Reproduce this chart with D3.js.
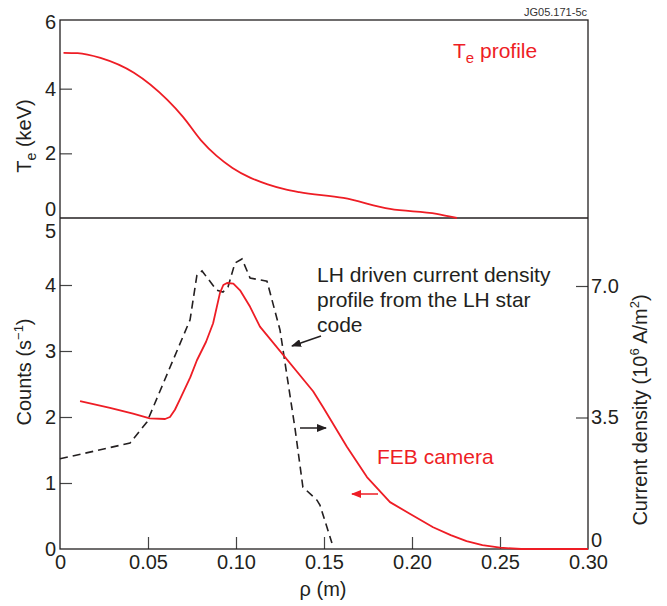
<!DOCTYPE html>
<html>
<head>
<meta charset="utf-8">
<script src="https://cdn.jsdelivr.net/npm/d3@7"></script>
<style>
    body { margin: 0; background: #fff; }
    svg { display: block; }
</style>
</head>
<body>
<svg id="chart"></svg>
<script>
// Te profile (top panel)
const teRho = [0.002, 0.010, 0.023, 0.042, 0.061, 0.070, 0.080, 0.089, 0.098, 0.108, 0.118, 0.127, 0.136, 0.161, 0.1875, 0.214, 0.2255];
const teKeV = [5.11, 5.10, 4.95, 4.49, 3.65, 3.12, 2.41, 1.92, 1.55, 1.25, 1.04, 0.90, 0.80, 0.62, 0.28, 0.13, 0];

// FEB camera counts (left axis, lower panel)
const febRho = [0.0114, 0.0284, 0.0415, 0.051, 0.0597, 0.0625, 0.0653, 0.068, 0.074, 0.0778, 0.083, 0.087, 0.0909, 0.0928, 0.0949, 0.0985, 0.1023, 0.108, 0.1136, 0.1438, 0.1494, 0.163, 0.1744, 0.1875, 0.199, 0.212, 0.222, 0.231, 0.240, 0.250, 0.262, 0.30];
const febCounts = [2.24, 2.14, 2.05, 1.98, 1.97, 2.00, 2.11, 2.26, 2.60, 2.86, 3.14, 3.42, 3.88, 4.00, 4.03, 4.02, 3.92, 3.67, 3.37, 2.39, 2.15, 1.55, 1.09, 0.71, 0.53, 0.33, 0.21, 0.12, 0.06, 0.02, 0, 0];

// LH star current density (right axis, lower panel)
const lhRho = [0, 0.0398, 0.0494, 0.0739, 0.0778, 0.0807, 0.089, 0.0926, 0.0955, 0.0994, 0.1034, 0.108, 0.1176, 0.125, 0.1335, 0.138, 0.146, 0.1477, 0.1545];
const lhJ = [2.40, 2.82, 3.38, 6.10, 7.29, 7.40, 6.89, 6.84, 6.98, 7.61, 7.72, 7.21, 7.13, 5.83, 3.22, 1.65, 1.30, 1.17, 0.16];

const rhoTicks = [0, 0.05, 0.10, 0.15, 0.20, 0.25, 0.30];
const teTicks = [0, 2, 4, 6];
const countTicks = [0, 1, 2, 3, 4, 5];
const jTicks = [0, 3.5, 7.0];

const width = 667,
    height = 606,
    plotLeft = 60,
    plotRight = 588,
    plotTop = 20,
    plotMid = 218,
    plotBottom = 549;

const font = "'Liberation Sans', Arial, Helvetica, sans-serif";
const red = "#ee1d25";
const ink = "#231f20";

const svg = d3.select("#chart")
    .attr("width", width)
    .attr("height", height)
    .attr("font-family", font);

const x = d3.scaleLinear().domain([0, 0.30]).range([plotLeft, plotRight]);
const yTe = d3.scaleLinear().domain([0, 6]).range([plotMid, 24]);
const yCounts = d3.scaleLinear().domain([0, 4]).range([plotBottom, 285]);
const yJ = d3.scaleLinear().domain([0, 7]).range([plotBottom, 286]);

// ticks that fall on the frame are hidden, the frame draws them
function styleAxis(g, edges) {
    g.attr("font-family", font).attr("font-size", 20);
    g.select(".domain").remove();
    g.selectAll(".tick line")
        .attr("stroke", "#444")
        .attr("stroke-width", 1.2)
        .attr("opacity", d => edges.includes(d) ? 0 : 1);
    g.selectAll(".tick text").attr("fill", ink);
}

//axes
svg.append("g")
    .attr("transform", `translate(${plotLeft},0)`)
    .call(d3.axisLeft(yTe).tickValues(teTicks).tickSize(-12).tickPadding(4).tickFormat(d3.format("d")))
    .call(styleAxis, [0, 6])
    .selectAll(".tick text")
    .attr("dy", d => d === 0 ? "-0.12em" : d === 6 ? "0.24em" : "0.32em");

svg.append("g")
    .attr("transform", `translate(${plotLeft},0)`)
    .call(d3.axisLeft(yCounts).tickValues(countTicks).tickSize(-12).tickPadding(4).tickFormat(d3.format("d")))
    .call(styleAxis, [0, 5])
    .selectAll(".tick text")
    .attr("dy", d => d === 5 ? "0.9em" : "0.32em");

svg.append("g")
    .attr("transform", `translate(${plotRight},0)`)
    .call(d3.axisRight(yJ).tickValues(jTicks).tickSize(-12).tickPadding(3)
        .tickFormat(d => d === 0 ? "0" : d.toFixed(1)))
    .call(styleAxis, [0])
    .selectAll(".tick text")
    .attr("dy", d => d === 0 ? "-0.15em" : "0.32em");

svg.append("g")
    .attr("transform", `translate(0,${plotBottom})`)
    .call(d3.axisBottom(x).tickValues(rhoTicks).tickSize(-12).tickPadding(6)
        .tickFormat(d => d === 0 ? "0" : d.toFixed(2)))
    .call(styleAxis, [0, 0.30]);

//frame
const frame = svg.append("g")
    .attr("stroke", ink)
    .attr("stroke-width", 1.3)
    .attr("fill", "none");
frame.append("rect")
    .attr("x", plotLeft)
    .attr("y", plotTop)
    .attr("width", plotRight - plotLeft)
    .attr("height", plotBottom - plotTop);
frame.append("line")
    .attr("x1", plotLeft).attr("x2", plotRight)
    .attr("y1", plotMid).attr("y2", plotMid);

//curves
const teLine = d3.line()
    .x(i => x(teRho[i]))
    .y(i => yTe(teKeV[i]))
    .curve(d3.curveMonotoneX);

const febLine = d3.line()
    .x(i => x(febRho[i]))
    .y(i => yCounts(febCounts[i]));

const lhLine = d3.line()
    .x(i => x(lhRho[i]))
    .y(i => yJ(lhJ[i]));

svg.append("path")
    .attr("d", teLine(d3.range(teRho.length)))
    .attr("fill", "none")
    .attr("stroke", red)
    .attr("stroke-width", 1.8);

svg.append("path")
    .attr("d", lhLine(d3.range(lhRho.length)))
    .attr("fill", "none")
    .attr("stroke", ink)
    .attr("stroke-width", 1.6)
    .attr("stroke-dasharray", "8,5");

svg.append("path")
    .attr("d", febLine(d3.range(febRho.length)))
    .attr("fill", "none")
    .attr("stroke", red)
    .attr("stroke-width", 1.8)
    .attr("stroke-linejoin", "round");

//arrows
const defs = svg.append("defs");
[["arrowBlack", ink], ["arrowRed", red]].forEach(([id, col]) => {
    defs.append("marker")
        .attr("id", id)
        .attr("viewBox", "0 0 10 8")
        .attr("refX", 9)
        .attr("refY", 4)
        .attr("markerWidth", 10)
        .attr("markerHeight", 8)
        .attr("markerUnits", "userSpaceOnUse")
        .attr("orient", "auto")
        .append("path")
        .attr("d", "M0,0 L10,4 L0,8 Z")
        .attr("fill", col);
});

const arrows = [
    {x1: 321, y1: 336, x2: 292, y2: 346, col: ink, m: "arrowBlack"},
    {x1: 300, y1: 428, x2: 326, y2: 428, col: ink, m: "arrowBlack"},
    {x1: 378, y1: 494, x2: 352, y2: 494, col: red, m: "arrowRed"}
];
svg.append("g")
    .selectAll("line")
    .data(arrows)
    .join("line")
    .attr("x1", d => d.x1).attr("y1", d => d.y1)
    .attr("x2", d => d.x2).attr("y2", d => d.y2)
    .attr("stroke", d => d.col)
    .attr("stroke-width", 1.5)
    .attr("marker-end", d => `url(#${d.m})`);

//texts
svg.append("text")
    .attr("x", 587)
    .attr("y", 16)
    .attr("text-anchor", "end")
    .attr("font-size", 11)
    .attr("fill", "#333")
    .text("JG05.171-5c");

const teLabel = svg.append("text")
    .attr("x", 453)
    .attr("y", 58)
    .attr("font-size", 21)
    .attr("fill", red);
teLabel.append("tspan").text("T");
teLabel.append("tspan").attr("font-size", 15).attr("dy", 5).text("e");
teLabel.append("tspan").attr("dy", -5).text(" profile");

svg.append("g")
    .attr("font-size", 21)
    .attr("fill", ink)
    .selectAll("text")
    .data(["LH driven current density", "profile from the LH star", "code"])
    .join("text")
    .attr("x", 317)
    .attr("y", (d, i) => 282 + i * 25)
    .text(d => d);

svg.append("text")
    .attr("x", 377)
    .attr("y", 464)
    .attr("font-size", 21)
    .attr("fill", red)
    .text("FEB camera");

svg.append("text")
    .attr("x", 323)
    .attr("y", 596)
    .attr("text-anchor", "middle")
    .attr("font-size", 20)
    .attr("fill", ink)
    .text("ρ (m)");

const teAxisLabel = svg.append("text")
    .attr("transform", "translate(31,136) rotate(-90)")
    .attr("text-anchor", "middle")
    .attr("font-size", 20)
    .attr("fill", ink);
teAxisLabel.append("tspan").text("T");
teAxisLabel.append("tspan").attr("font-size", 14).attr("dy", 5).text("e");
teAxisLabel.append("tspan").attr("dy", -5).text(" (keV)");

const countsLabel = svg.append("text")
    .attr("transform", "translate(31,372) rotate(-90)")
    .attr("text-anchor", "middle")
    .attr("font-size", 20)
    .attr("fill", ink);
countsLabel.append("tspan").text("Counts (s");
countsLabel.append("tspan").attr("font-size", 13).attr("dy", -8).text("−1");
countsLabel.append("tspan").attr("dy", 8).text(")");

const jLabel = svg.append("text")
    .attr("transform", "translate(647,410) rotate(-90)")
    .attr("text-anchor", "middle")
    .attr("font-size", 20)
    .attr("fill", ink);
jLabel.append("tspan").text("Current density (10");
jLabel.append("tspan").attr("font-size", 13).attr("dy", -8).text("6");
jLabel.append("tspan").attr("dy", 8).text(" A/m");
jLabel.append("tspan").attr("font-size", 13).attr("dy", -8).text("2");
jLabel.append("tspan").attr("dy", 8).text(")");
</script>
</body>
</html>
